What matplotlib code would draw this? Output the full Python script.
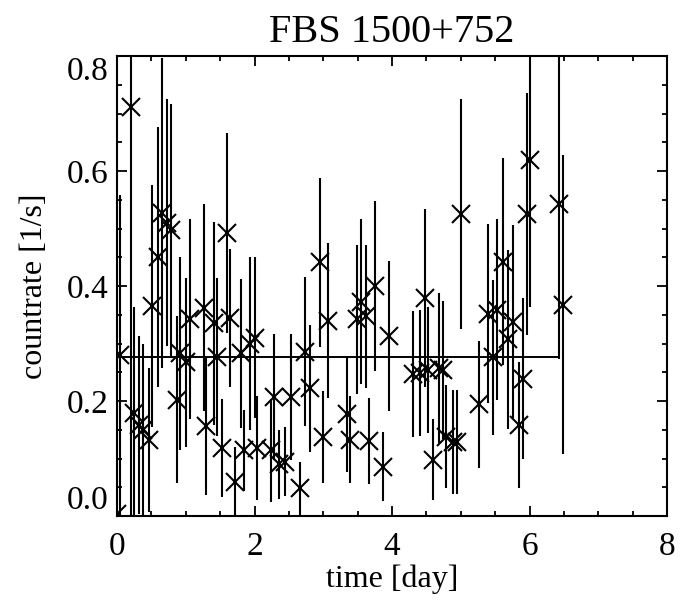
import numpy as np
import matplotlib
matplotlib.use('Agg')
import matplotlib.pyplot as plt
from matplotlib.ticker import MultipleLocator

# light curve
time = [0.00, 0.04, 0.20, 0.25, 0.32, 0.38, 0.46, 0.51, 0.60, 0.66,
        0.72, 0.79, 0.87, 0.92, 1.00, 1.06, 1.26, 1.30, 1.41, 1.45,
        1.52, 1.60, 1.65, 1.72, 1.80, 1.84, 1.94, 2.00, 2.04, 2.24,
        2.29, 2.36, 2.45, 2.53, 2.66, 2.74, 2.80, 2.95, 3.00, 3.07,
        3.34, 3.39, 3.49, 3.55, 3.62, 3.67, 3.75, 3.87, 3.95, 4.31,
        4.40, 4.48, 4.53, 4.60, 4.68, 4.74, 4.79, 4.88, 4.94, 5.01,
        5.26, 5.40, 5.465, 5.53, 5.62, 5.69, 5.755, 5.84, 5.90, 5.97,
        6.01, 6.43, 6.48]
rate = [0.003, 0.280, 0.712, 0.179, 0.158, 0.150, 0.132, 0.365, 0.451, 0.527,
        0.510, 0.497, 0.202, 0.283, 0.267, 0.342, 0.362, 0.156, 0.335, 0.277,
        0.118, 0.492, 0.344, 0.060, 0.283, 0.114, 0.300, 0.310, 0.118, 0.114,
        0.207, 0.090, 0.094, 0.207, 0.048, 0.286, 0.222, 0.441, 0.138, 0.340,
        0.177, 0.133, 0.342, 0.373, 0.347, 0.131, 0.400, 0.086, 0.313, 0.247,
        0.249, 0.379, 0.254, 0.098, 0.257, 0.254, 0.138, 0.129, 0.129, 0.526,
        0.194, 0.352, 0.276, 0.359, 0.442, 0.307, 0.338, 0.158, 0.239, 0.525,
        0.620, 0.543, 0.367]
rate_err = [0.01, 0.278, 0.75, 0.185, 0.155, 0.150, 0.125, 0.21, 0.226, 0.27,
            0.215, 0.22, 0.145, 0.168, 0.147, 0.174, 0.18, 0.12, 0.177, 0.137,
            0.085, 0.174, 0.12, 0.06, 0.13, 0.07, 0.15, 0.14, 0.09, 0.09,
            0.11, 0.06, 0.06, 0.11, 0.046, 0.13, 0.11, 0.147, 0.08, 0.134,
            0.10, 0.076, 0.13, 0.143, 0.125, 0.075, 0.147, 0.06, 0.13, 0.11,
            0.11, 0.155, 0.11, 0.07, 0.13, 0.12, 0.09, 0.09, 0.09, 0.20,
            0.11, 0.155, 0.135, 0.158, 0.18, 0.155, 0.168, 0.11, 0.14, 0.21,
            0.256, 0.27, 0.26]

# constant fit
mean_rate = 0.276
fit_end = 6.43

plt.rcParams['font.family'] = ['Liberation Serif', 'DejaVu Serif']

fig = plt.figure(figsize=(6.9, 6.01), dpi=100)
ax = fig.add_axes([0.1696, 0.1414, 0.7971, 0.7654])

ax.errorbar(time, rate, yerr=rate_err, fmt='x', color='black',
            markersize=12.5, markeredgewidth=1.5, elinewidth=1.5, capsize=0)
ax.plot([0, fit_end], [mean_rate, mean_rate], color='black', linewidth=1.4)

ax.set_xlim(0, 8)
ax.set_ylim(0, 0.8)
ax.xaxis.set_major_locator(MultipleLocator(2))
ax.xaxis.set_minor_locator(MultipleLocator(0.5))
ax.yaxis.set_major_locator(MultipleLocator(0.2))
ax.yaxis.set_minor_locator(MultipleLocator(0.05))
ax.set_yticks([0.0, 0.2, 0.4, 0.6, 0.8])
ax.set_yticklabels(['0.0', '0.2', '0.4', '0.6', '0.8'])

ax.tick_params(which='both', direction='in', top=True, right=True, width=1.3,
               labelsize=24)
ax.tick_params(which='major', length=7)
ax.tick_params(which='minor', length=3.8)
ax.tick_params(axis='x', pad=11)
ax.tick_params(axis='y', pad=6)
labs = ax.get_yticklabels()
labs[0].set_va('bottom')
labs[-1].set_va('top')

for s in ax.spines.values():
    s.set_linewidth(1.5)

ax.set_title('FBS 1500+752', fontsize=29, pad=10)
ax.set_xlabel('time [day]', fontsize=23, labelpad=2)
ax.set_ylabel('countrate [1/s]', fontsize=23, labelpad=13)

fig.savefig('out.png', dpi=100)
